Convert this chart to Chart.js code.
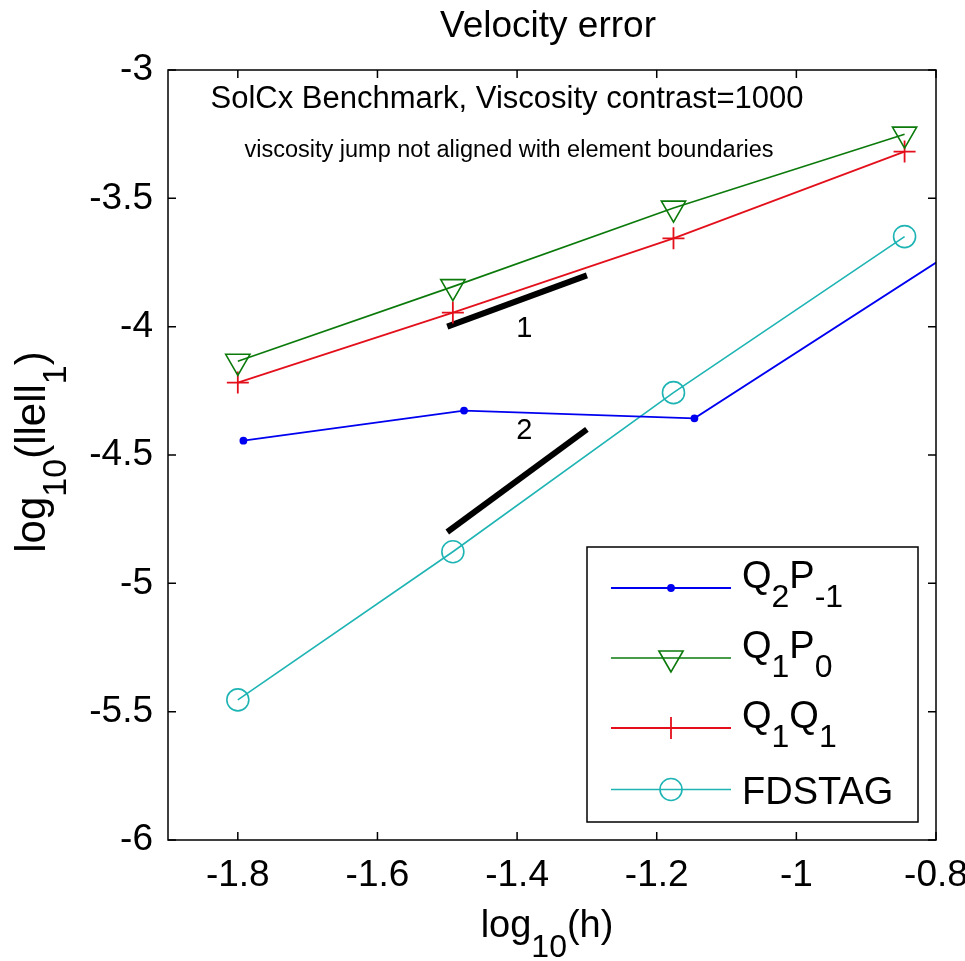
<!DOCTYPE html>
<html>
<head>
<meta charset="utf-8">
<title>Velocity error</title>
<script src="https://cdn.jsdelivr.net/npm/chart.js@4.4.1/dist/chart.umd.min.js"></script>
<style>
  html, body { margin: 0; padding: 0; background: #fff; }
  #chart { display: block; }
</style>
</head>
<body>
<canvas id="chart" width="965" height="961"></canvas>
<script>
// values (log10 h, log10 ||e||1)
const hX = [-1.8, -1.492, -1.176, -0.845]
const q2p1X = [-1.792, -1.476, -1.146, -0.5]   // last point sits off the right edge
const q2p1Y = [-4.444, -4.327, -4.357, -3.225]
const q1p0Y = [-4.135, -3.844, -3.538, -3.250]
const q1q1Y = [-4.218, -3.945, -3.656, -3.318]
const fdstagY = [-5.454, -4.877, -4.257, -3.649]

// reference slopes 1 and 2
const slope1X = [-1.5, -1.3]
const slope1Y = [-4.0, -3.8]
const slope2X = [-1.5, -1.3]
const slope2Y = [-4.8, -4.4]
const slopeLabels = [["1", -1.3895, -4.009], ["2", -1.3895, -4.406]]

const xTicks = [-1.8, -1.6, -1.4, -1.2, -1, -0.8]
const yTicks = [-6, -5.5, -5, -4.5, -4, -3.5, -3]

// legend names, [text, isSubscript]
const names = [
  [["Q", 0], ["2", 1], ["P", 0], ["-1", 1]],
  [["Q", 0], ["1", 1], ["P", 0], ["0", 1]],
  [["Q", 0], ["1", 1], ["Q", 0], ["1", 1]],
  [["FDSTAG", 0]]
]

const FONT = "'Liberation Sans', Arial, Helvetica, sans-serif"
const BLUE = "#0000f0"
const GREEN = "#0b7a0b"
const RED = "#e3101c"
const CYAN = "#1fb4b4"

function pts(xs, ys) {
  return xs.map((x, i) => ({x: x, y: ys[i]}))
}

function richWidth(ctx, parts, size, subSize) {
  let w = 0
  parts.forEach(p => {
    ctx.font = (p[1] ? subSize : size) + "px " + FONT
    w += ctx.measureText(p[0]).width
  })
  return w
}

// draws text with subscripts, y is the main baseline
function drawRich(ctx, parts, x, y, size, subSize, drop, align) {
  let cx = x
  const w = richWidth(ctx, parts, size, subSize)
  if (align === "center") cx = x - w / 2
  ctx.textAlign = "left"
  ctx.textBaseline = "alphabetic"
  parts.forEach(p => {
    ctx.font = (p[1] ? subSize : size) + "px " + FONT
    ctx.fillText(p[0], cx, p[1] ? y + drop : y)
    cx += ctx.measureText(p[0]).width
  })
}

const series = [
  {color: BLUE, style: "circle", radius: 3, fill: BLUE, rot: 0, width: 1.8},
  {color: GREEN, style: "triangle", radius: 14, fill: "rgba(0,0,0,0)", rot: 180, width: 1.6},
  {color: RED, style: "cross", radius: 11, fill: "rgba(0,0,0,0)", rot: 0, width: 1.8},
  {color: CYAN, style: "circle", radius: 11, fill: "rgba(0,0,0,0)", rot: 0, width: 1.6}
]

const frame = {
  id: "frame",
  afterDraw(chart) {
    const ctx = chart.ctx
    const a = chart.chartArea
    const xs = chart.scales.x
    const ys = chart.scales.y
    ctx.save()

    // box and inward ticks
    ctx.strokeStyle = "#000"
    ctx.lineWidth = 1.5
    ctx.strokeRect(a.left, a.top, a.right - a.left, a.bottom - a.top)
    ctx.beginPath()
    xTicks.forEach(v => {
      const p = xs.getPixelForValue(v)
      ctx.moveTo(p, a.bottom); ctx.lineTo(p, a.bottom - 8)
      ctx.moveTo(p, a.top); ctx.lineTo(p, a.top + 8)
    })
    yTicks.forEach(v => {
      const p = ys.getPixelForValue(v)
      ctx.moveTo(a.left, p); ctx.lineTo(a.left + 8, p)
      ctx.moveTo(a.right, p); ctx.lineTo(a.right - 8, p)
    })
    ctx.stroke()

    ctx.fillStyle = "#000"
    const mid = (a.left + a.right) / 2

    // title
    ctx.font = "37px " + FONT
    ctx.textAlign = "center"
    ctx.textBaseline = "alphabetic"
    ctx.fillText("Velocity error", mid - 4, 37)

    // axis labels
    drawRich(ctx, [["log", 0], ["10", 1], ["(h)", 0]], mid - 5, 937, 38, 32, 20, "center")
    ctx.save()
    ctx.translate(45, 452)
    ctx.rotate(-Math.PI / 2)
    drawRich(ctx, [["log", 0], ["10", 1], ["(ll", 0], ["e", 0], ["ll", 0], ["1", 1], [")", 0]], 0, 0, 42, 34, 21, "center")
    ctx.restore()

    // notes at the top
    ctx.textAlign = "center"
    ctx.font = "31px " + FONT
    ctx.fillText("SolCx Benchmark, Viscosity contrast=1000", a.left + 339, 108)
    ctx.font = "23.5px " + FONT
    ctx.fillText("viscosity jump not aligned with element boundaries", a.left + 341, 157)

    // slope numbers
    ctx.font = "29px " + FONT
    ctx.textBaseline = "middle"
    slopeLabels.forEach(s => {
      ctx.fillText(s[0], xs.getPixelForValue(s[1]), ys.getPixelForValue(s[2]))
    })

    // legend
    const bw = 331, bh = 275
    const bx = a.right - 18 - bw
    const by = a.bottom - 18 - bh
    ctx.fillStyle = "#fff"
    ctx.fillRect(bx, by, bw, bh)
    ctx.strokeStyle = "#000"
    ctx.lineWidth = 1.5
    ctx.strokeRect(bx, by, bw, bh)
    const rows = [41, 111, 181, 242.5]
    series.forEach((s, i) => {
      const ly = by + rows[i]
      ctx.strokeStyle = s.color
      ctx.lineWidth = s.width
      ctx.beginPath()
      ctx.moveTo(bx + 24, ly)
      ctx.lineTo(bx + 144, ly)
      ctx.stroke()
      ctx.fillStyle = s.fill
      Chart.helpers.drawPoint(ctx, {pointStyle: s.style, radius: s.radius, rotation: s.rot, borderWidth: s.width}, bx + 84, ly)
      ctx.fillStyle = "#000"
      const base = names[i].length > 1 ? ly : ly + 14
      drawRich(ctx, names[i], bx + 155, base, 38, 32, 19, "left")
    })

    ctx.restore()
  }
}

Chart.defaults.font.family = FONT
Chart.defaults.color = "#000"

const lineSets = [q2p1Y, q1p0Y, q1q1Y, fdstagY].map((ys, i) => {
  const s = series[i]
  return {
    data: pts(i === 0 ? q2p1X : hX, ys),
    borderColor: s.color,
    borderWidth: s.width,
    pointStyle: s.style,
    pointRadius: s.radius,
    pointRotation: s.rot,
    pointBorderColor: s.color,
    pointBackgroundColor: s.fill,
    pointBorderWidth: s.width,
    showLine: true
  }
})

const slopeSets = [[slope1X, slope1Y], [slope2X, slope2Y]].map(s => ({
  data: pts(s[0], s[1]),
  borderColor: "#000",
  borderWidth: 6,
  pointRadius: 0,
  showLine: true
}))

new Chart(document.getElementById("chart"), {
  type: "scatter",
  data: {datasets: lineSets.concat(slopeSets)},
  options: {
    responsive: false,
    animation: false,
    layout: {padding: {top: 70, right: 29, left: 0, bottom: 0}},
    plugins: {legend: {display: false}, tooltip: {enabled: false}, title: {display: false}},
    scales: {
      x: {
        type: "linear",
        min: -1.9,
        max: -0.8,
        afterBuildTicks: s => { s.ticks = xTicks.map(v => ({value: v})) },
        afterFit: s => { s.height = 121; s.paddingLeft = 0; s.paddingRight = 0 },
        grid: {display: false, drawTicks: false},
        border: {display: false},
        ticks: {font: {size: 37}, color: "#000", padding: 14, maxRotation: 0, autoSkip: false,
          callback: v => String(v)}
      },
      y: {
        type: "linear",
        min: -6,
        max: -3,
        afterBuildTicks: s => { s.ticks = yTicks.map(v => ({value: v})) },
        afterFit: s => { s.width = 168; s.paddingTop = 0; s.paddingBottom = 0 },
        grid: {display: false, drawTicks: false},
        border: {display: false},
        ticks: {font: {size: 37}, color: "#000", padding: 15, autoSkip: false,
          callback: v => String(v)}
      }
    }
  },
  plugins: [frame]
})
</script>
</body>
</html>
